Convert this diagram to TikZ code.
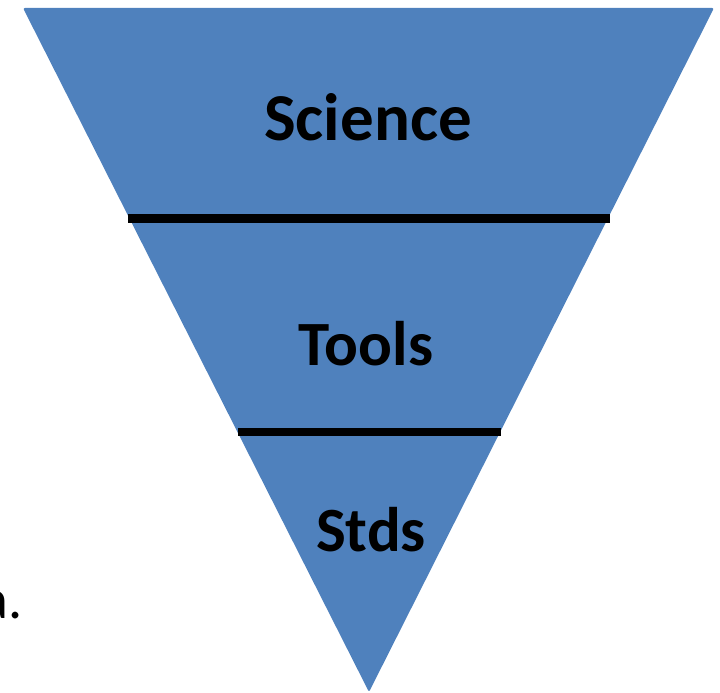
\documentclass[tikz,border=0pt]{standalone}
\usepackage{fontspec}
\setmainfont{Carlito}
\definecolor{tri}{HTML}{4F81BD}
\begin{document}
\begin{tikzpicture}[x=1pt,y=-1pt,
  label/.style={anchor=base,inner sep=0pt,font=\bfseries},
  divider/.style={line width=9pt,black}]
\useasboundingbox (0,0) rectangle (720,693);
\coordinate (tl) at (23,8);
\coordinate (tr) at (714,8);
\coordinate (ap) at (369,692);
\fill[tri,rounded corners=2pt] (tl) -- (tr) -- (ap) -- cycle;
\coordinate (l1a) at (128,218);
\coordinate (l1b) at (610,218);
\coordinate (l2a) at (238,432);
\coordinate (l2b) at (501,432);
\draw[divider] (l1a) -- (l1b);
\draw[divider,line width=8pt] (l2a) -- (l2b);
\node[label,font=\fontsize{67}{67}\selectfont\bfseries] (sci) at (368,140) {Science};
\node[label,font=\fontsize{63}{63}\selectfont\bfseries] (tools) at (366,365) {Tools};
\node[label,font=\fontsize{63}{63}\selectfont\bfseries] (stds) at (371,551) {Stds};
\node[anchor=base east,inner sep=0pt,font=\fontsize{56}{56}\selectfont] (a) at (23,618) {a.};
\end{tikzpicture}
\end{document}
